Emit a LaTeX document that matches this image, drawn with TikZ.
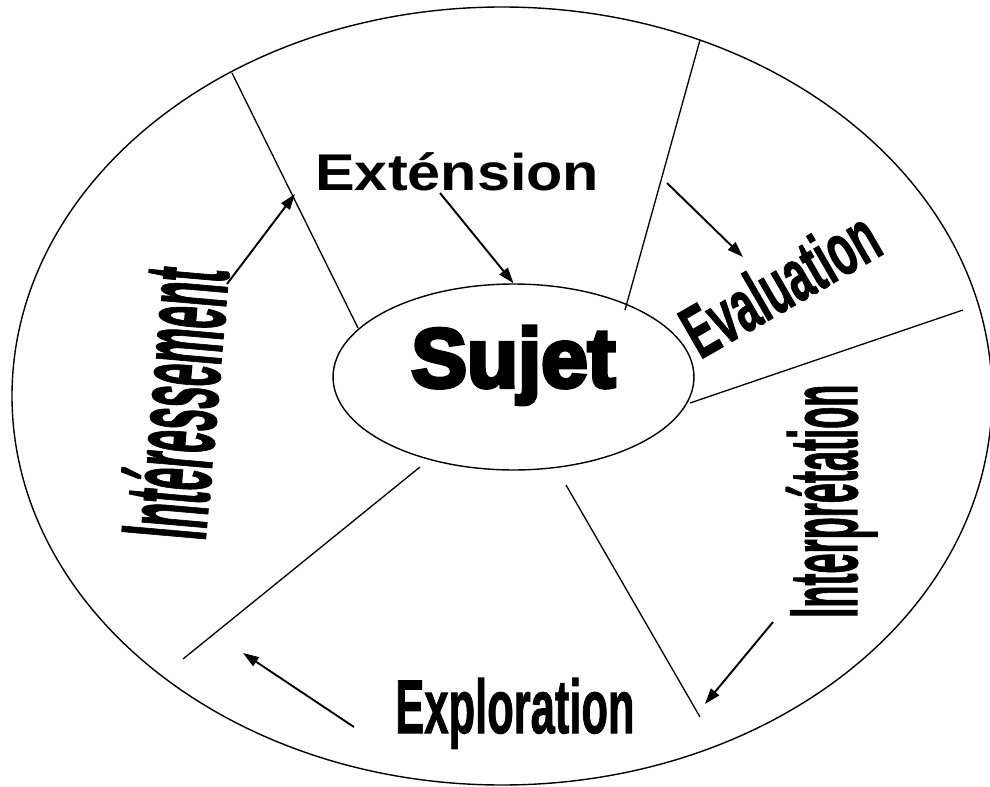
\documentclass[tikz,border=0pt]{standalone}
\usepackage{fontspec}
\usepackage{graphicx}
\setmainfont{Liberation Sans}
\newfontfamily\heavyfont[FakeBold=5]{Liberation Sans Bold}
\newfontfamily\wordfont[FakeBold=1.5]{Liberation Sans Bold}
\usetikzlibrary{shapes.geometric,arrows.meta}

\begin{document}
\begin{tikzpicture}[x=0.02cm, y=-0.02cm,
        spoke/.style={line width=0.75pt},
        flow/.style={line width=1.1pt, -{Triangle[length=9pt,width=6pt]}},
        word/.style={inner sep=0pt, anchor=base west}]
        \useasboundingbox (0,0) rectangle (990,787);

        % cadre et sujet
        \draw[line width=0.8pt] (502,396) ellipse (490 and 389);
        \node[draw, line width=0.8pt, ellipse, inner sep=0pt, minimum width=7.22cm, minimum height=3.72cm] (sujet) at (513.5,377) {};
        \node[word, font=\heavyfont\fontsize{47.5pt}{50pt}\selectfont] (sujetlbl) at (411,387) {Sujet};

        % rayons
        \coordinate (ray1a) at (232,73);  \coordinate (ray1b) at (358,328);
        \coordinate (ray2a) at (700,40);  \coordinate (ray2b) at (625,310);
        \coordinate (ray3a) at (963,310); \coordinate (ray3b) at (690,403);
        \coordinate (ray4a) at (700,717); \coordinate (ray4b) at (566,485);
        \coordinate (ray5a) at (183,659); \coordinate (ray5b) at (420,467);
        \draw[spoke] (ray1a) -- (ray1b);
        \draw[spoke] (ray2a) -- (ray2b);
        \draw[spoke] (ray3a) -- (ray3b);
        \draw[spoke] (ray4a) -- (ray4b);
        \draw[spoke] (ray5a) -- (ray5b);

        % etapes
        \node[word, font=\bfseries\fontsize{29.4pt}{30pt}\selectfont] (extension) at (315,191) {\scalebox{1.15}[1]{Exténsion}};
        \node[word, rotate=30, font=\wordfont\fontsize{42.3pt}{44pt}\selectfont] (evaluation) at (700,360) {\scalebox{0.57}[1]{Evaluation}};
        \node[word, rotate=90, font=\wordfont\fontsize{55pt}{57pt}\selectfont] (interpretation) at (857,618) {\scalebox{0.374}[1]{Interprétation}};
        \node[word, font=\wordfont\fontsize{43.2pt}{45pt}\selectfont] (exploration) at (395,733) {\scalebox{0.573}[1]{Exploration}};
        \node[word, rotate=85, font=\wordfont\fontsize{69pt}{72pt}\selectfont] (interessement) at (205,542) {\scalebox{0.33}[1]{Intéressement}};

        % fleches
        \coordinate (intA) at (227,284);  \coordinate (intB) at (295,194);
        \coordinate (extA) at (440,193);
        \coordinate (evaA) at (667,183);  \coordinate (evaB) at (743,257);
        \coordinate (itpA) at (773,622);  \coordinate (itpB) at (705,704);
        \coordinate (expA) at (354,727);  \coordinate (expB) at (243,653);
        \draw[flow] (intA) -- (intB);
        \draw[flow] (extA) -- (sujet.north);
        \draw[flow] (evaA) -- (evaB);
        \draw[flow] (itpA) -- (itpB);
        \draw[flow] (expA) -- (expB);
    \end{tikzpicture}
\end{document}
